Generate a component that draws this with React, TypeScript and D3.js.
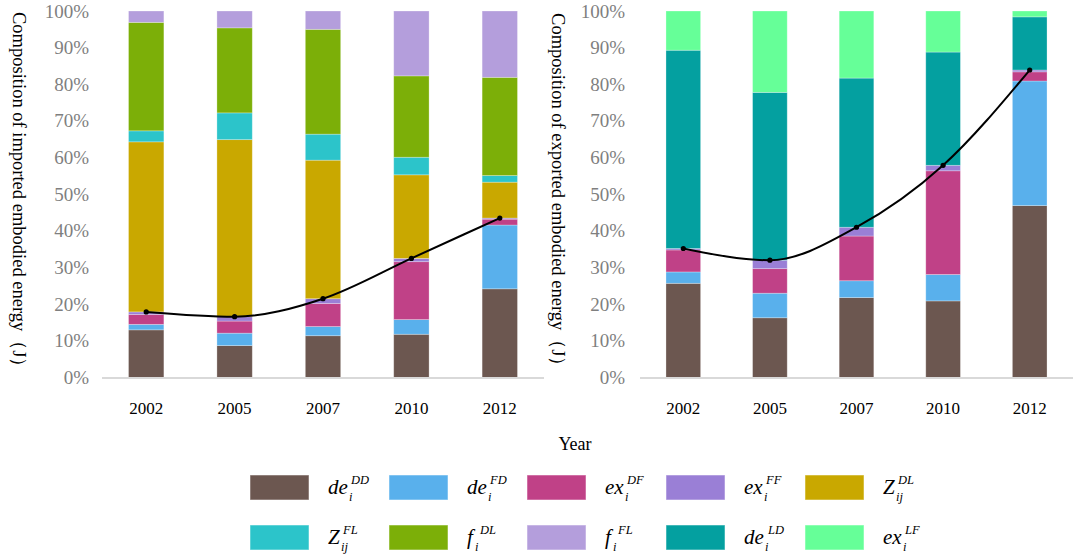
import React from "react";
import * as d3 from "d3";

// Years on the category axis
const years = ["2002", "2005", "2007", "2010", "2012"];

// Percentage ticks
const yTicks = [0, 10, 20, 30, 40, 50, 60, 70, 80, 90, 100];

// Imported embodied energy composition (%), bottom to top
const impDeDD = [13.0, 8.7, 11.4, 11.8, 24.2];
const impDeFD = [1.5, 3.4, 2.5, 4.0, 17.4];
const impExDF = [2.7, 3.3, 6.3, 15.8, 1.6];
const impExFF = [0.7, 1.2, 1.3, 0.9, 0.3];
const impZDL = [46.4, 48.3, 37.8, 22.8, 9.8];
const impZFL = [3.0, 7.3, 7.1, 4.8, 1.8];
const impFDL = [29.6, 23.2, 28.6, 22.2, 26.8];
const impFFL = [3.1, 4.6, 5.0, 17.7, 18.1];

// Exported embodied energy composition (%), bottom to top
const expDeDD = [25.7, 16.3, 21.8, 20.9, 46.9];
const expDeFD = [3.1, 6.7, 4.6, 7.2, 34.0];
const expExDF = [6.0, 6.7, 12.2, 28.3, 2.5];
const expExFF = [0.4, 2.3, 2.4, 1.5, 0.5];
const expDeLD = [54.1, 45.8, 40.7, 30.9, 14.5];
const expExLF = [10.7, 22.2, 18.3, 11.2, 1.6];

type Comp = { key: string; values: number[] };

const colors: Record<string, string> = {
  deDD: "#6c5750",
  deFD: "#59b0ec",
  exDF: "#c04187",
  exFF: "#9a7fd6",
  ZDL: "#c9a800",
  ZFL: "#2cc4ca",
  fDL: "#7caf08",
  fFL: "#b49edc",
  deLD: "#04a0a0",
  exLF: "#66ff98",
};

const importSeries: Comp[] = [
  { key: "deDD", values: impDeDD },
  { key: "deFD", values: impDeFD },
  { key: "exDF", values: impExDF },
  { key: "exFF", values: impExFF },
  { key: "ZDL", values: impZDL },
  { key: "ZFL", values: impZFL },
  { key: "fDL", values: impFDL },
  { key: "fFL", values: impFFL },
];

const exportSeries: Comp[] = [
  { key: "deDD", values: expDeDD },
  { key: "deFD", values: expDeFD },
  { key: "exDF", values: expExDF },
  { key: "exFF", values: expExFF },
  { key: "deLD", values: expDeLD },
  { key: "exLF", values: expExLF },
];

type LegendItem = { key: string; base: string; sup: string; sub: string; supDx: number; subDx: number };

const legendRow1: LegendItem[] = [
  { key: "deDD", base: "de", sup: "DD", sub: "i", supDx: 23, subDx: 21 },
  { key: "deFD", base: "de", sup: "FD", sub: "i", supDx: 23, subDx: 21 },
  { key: "exDF", base: "ex", sup: "DF", sub: "i", supDx: 22, subDx: 20 },
  { key: "exFF", base: "ex", sup: "FF", sub: "i", supDx: 22, subDx: 20 },
  { key: "ZDL", base: "Z", sup: "DL", sub: "ij", supDx: 15, subDx: 13 },
];
const legendRow2: LegendItem[] = [
  { key: "ZFL", base: "Z", sup: "FL", sub: "ij", supDx: 15, subDx: 13 },
  { key: "fDL", base: "f", sup: "DL", sub: "i", supDx: 13, subDx: 8 },
  { key: "fFL", base: "f", sup: "FL", sub: "i", supDx: 13, subDx: 8 },
  { key: "deLD", base: "de", sup: "LD", sub: "i", supDx: 24, subDx: 21 },
  { key: "exLF", base: "ex", sup: "LF", sub: "i", supDx: 22, subDx: 20 },
];

const SERIF = "Liberation Serif, DejaVu Serif, serif";

function Panel({
  series,
  x0,
  x1,
  labelRight,
  titleX,
  title,
}: {
  series: Comp[];
  x0: number;
  x1: number;
  labelRight: number;
  titleX: number;
  title: string;
}) {
  const yBottom = 377.5;
  const yTop = 11;
  const x = d3.scaleBand<string>().domain(years).range([x0, x1]).paddingInner(0.6).paddingOuter(0.3);
  const y = d3.scaleLinear().domain([0, 100]).range([yBottom, yTop]);

  const rows = years.map((yr, i) => {
    const r: Record<string, number | string> = { year: yr };
    series.forEach((s) => (r[s.key] = s.values[i]));
    return r;
  });
  const stack = d3.stack<Record<string, number | string>>().keys(series.map((s) => s.key));
  const layers = stack(rows as any);

  // Cumulative share of the four trade components (top of the exFF segment)
  const lineLayer = layers[3];
  const linePts: [number, number][] = years.map((yr, i) => [
    (x(yr) as number) + x.bandwidth() / 2,
    y(lineLayer[i][1]),
  ]);
  const line = d3.line().curve(d3.curveMonotoneX)(linePts) || "";

  return (
    <g>
      {yTicks.map((t) => (
        <text
          key={t}
          x={labelRight}
          y={y(t)}
          textAnchor="end"
          dominantBaseline="central"
          fontFamily={SERIF}
          fontSize={19}
          fill="#7f7f7f"
        >
          {t}%
        </text>
      ))}
      <text
        transform={`translate(${titleX},${(yTop + yBottom) / 2}) rotate(90)`}
        textAnchor="middle"
        dominantBaseline="central"
        fontFamily={SERIF}
        fontSize={18.5}
        fill="#000"
      >
        {title}
      </text>
      {layers.map((layer) =>
        layer.map((d, i) => (
          <rect
            key={layer.key + i}
            x={x(years[i]) as number}
            y={y(d[1])}
            width={x.bandwidth()}
            height={Math.max(0, y(d[0]) - y(d[1]))}
            fill={colors[layer.key]}
            stroke="#ffffff"
            strokeOpacity={0.35}
            strokeWidth={0.8}
          />
        ))
      )}
      <line x1={x0} x2={x1} y1={yBottom + 0.5} y2={yBottom + 0.5} stroke="#d9d9d9" strokeWidth={2} />
      {years.map((yr) => (
        <text
          key={yr}
          x={(x(yr) as number) + x.bandwidth() / 2}
          y={408}
          textAnchor="middle"
          dominantBaseline="central"
          fontFamily={SERIF}
          fontSize={17}
          fill="#000"
        >
          {yr}
        </text>
      ))}
      <path d={line} fill="none" stroke="#000" strokeWidth={2} />
      {linePts.map((p, i) => (
        <circle key={i} cx={p[0]} cy={p[1]} r={2.6} fill="#000" />
      ))}
    </g>
  );
}

function LegendEntry({ item, sx, sy, baseline }: { item: LegendItem; sx: number; sy: number; baseline: number }) {
  const tx = sx + 78;
  return (
    <g>
      <rect x={sx} y={sy} width={59} height={25} fill={colors[item.key]} stroke="#ffffff" strokeOpacity={0.5} strokeWidth={1} />
      <text x={tx} y={baseline} fontFamily={SERIF} fontStyle="italic" fill="#000">
        <tspan fontSize={21}>{item.base}</tspan>
        <tspan x={tx + item.supDx} y={baseline - 10} fontSize={12.5}>
          {item.sup}
        </tspan>
        <tspan x={tx + item.subDx} y={baseline + 7} fontSize={12.5}>
          {item.sub}
        </tspan>
      </text>
    </g>
  );
}

export default function App() {
  const swatchX = [250, 389, 527, 666, 805];
  return (
    <svg width={1076} height={556} style={{ position: "absolute", left: 0, top: 0, background: "#fff" }}>
      <rect x={0} y={0} width={1076} height={556} fill="#fff" />
      <Panel series={importSeries} x0={102} x1={544} labelRight={89} titleX={19} title="Composition of imported embodied energy（J）" />
      <Panel series={exportSeries} x0={640} x1={1073} labelRight={625} titleX={558} title="Composition of exported embodied energy（J）" />
      <text x={575} y={450} textAnchor="middle" fontFamily={SERIF} fontSize={18} fill="#000">
        Year
      </text>
      {legendRow1.map((it, i) => (
        <LegendEntry key={it.key} item={it} sx={swatchX[i]} sy={475} baseline={494} />
      ))}
      {legendRow2.map((it, i) => (
        <LegendEntry key={it.key} item={it} sx={swatchX[i]} sy={525} baseline={544} />
      ))}
    </svg>
  );
}
